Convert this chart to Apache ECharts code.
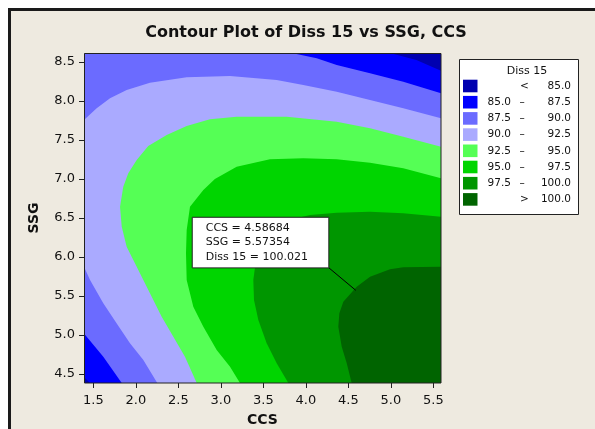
<!DOCTYPE html>
<html><head><meta charset="utf-8">
<script src="https://cdn.jsdelivr.net/npm/echarts@6/dist/echarts.min.js"></script>
<style>html,body{margin:0;padding:0;background:#fff}#c{width:595px;height:429px}</style>
</head><body><div id="c"></div>
<script>
// ---- data ----
const levels = [85, 87.5, 90, 92.5, 95, 97.5, 100];
const bandColors = ['#0000B0', '#0000FF', '#6B6BFF', '#AAAAFF', '#55FF55', '#00D500', '#009600', '#006400'];
const xTicks = [1.5, 2.0, 2.5, 3.0, 3.5, 4.0, 4.5, 5.0, 5.5];
const yTicks = [4.5, 5.0, 5.5, 6.0, 6.5, 7.0, 7.5, 8.0, 8.5];
const xRange = [1.39, 5.59];
const yRange = [4.385, 8.615];

// contour lines [CCS, SSG]
const c85Top = [[4.99, 8.615], [5.30, 8.525], [5.59, 8.388]];
const c85Low = [[1.39, 4.461], [1.461, 4.385]];
const c875Top = [[3.834, 8.615], [4.128, 8.547], [4.363, 8.461], [4.755, 8.355], [5.146, 8.247], [5.59, 8.098]];
const c875Low = [[1.39, 5.021], [1.617, 4.721], [1.834, 4.385]];
const c90Top = [[1.39, 7.756], [1.539, 7.906], [1.696, 8.034], [1.892, 8.141], [2.166, 8.234], [2.598, 8.303], [3.108, 8.320], [3.657, 8.269], [3.970, 8.205], [4.363, 8.119], [4.755, 8.012], [5.146, 7.906], [5.59, 7.778]];
const c90Low = [[1.39, 5.875], [1.461, 5.705], [1.617, 5.406], [1.775, 5.149], [1.931, 4.893], [2.088, 4.679], [2.252, 4.385]];
const c925 = [[5.59, 7.414], [5.146, 7.542], [4.755, 7.650], [4.363, 7.734], [3.775, 7.798], [3.186, 7.798], [2.872, 7.765], [2.598, 7.679], [2.363, 7.564], [2.146, 7.423], [2.010, 7.243], [1.911, 7.073], [1.852, 6.901], [1.814, 6.644], [1.834, 6.388], [1.892, 6.132], [2.010, 5.875], [2.166, 5.534], [2.304, 5.234], [2.441, 4.978], [2.578, 4.721], [2.716, 4.385]];
const c95 = [[5.59, 7.009], [5.146, 7.137], [4.755, 7.209], [4.363, 7.252], [3.970, 7.265], [3.578, 7.252], [3.186, 7.157], [2.93, 7.0], [2.794, 6.859], [2.637, 6.644], [2.598, 6.346], [2.590, 6.047], [2.598, 5.705], [2.676, 5.362], [2.794, 5.106], [2.951, 4.807], [3.108, 4.593], [3.225, 4.385]];
const c975 = [[5.59, 6.516], [5.146, 6.560], [4.755, 6.580], [4.363, 6.568], [4.049, 6.538], [3.90, 6.50], [3.735, 6.452], [3.539, 6.260], [3.441, 6.047], [3.402, 5.868], [3.382, 5.705], [3.390, 5.448], [3.441, 5.192], [3.539, 4.893], [3.657, 4.637], [3.794, 4.385]];
const c100 = [[5.59, 5.875], [5.146, 5.868], [4.99, 5.842], [4.755, 5.747], [4.598, 5.619], [4.441, 5.427], [4.394, 5.278], [4.382, 5.106], [4.422, 4.850], [4.481, 4.637], [4.539, 4.385]];

const contourSets = [[c85Top, c85Low], [c875Top, c875Low], [c90Top, c90Low], [c925], [c95], [c975], [c100]];
const annotPoint = [4.58684, 5.57354, 100.021];

// ---- build ----
const [xMin, xMax] = xRange, [yMin, yMax] = yRange;
function regionAbove(parts) {
  const a = parts[0], b = parts[1];
  const pts = [];
  if (a[0][1] >= yMax) pts.push([xMin, yMax]);
  pts.push(...a);
  pts.push([xMax, yMin]);
  if (b) pts.push(...b.slice().reverse());
  return pts;
}
const regions = [[[xMin, yMin], [xMin, yMax], [xMax, yMax], [xMax, yMin]]].concat(contourSets.map(regionAbove));

const series = regions.map((poly, i) => ({
  type: 'custom',
  coordinateSystem: 'cartesian2d',
  clip: true,
  z: 2 + i,
  silent: true,
  data: poly,
  renderItem: function (params, api) {
    if (params.dataIndex !== 0) return null;
    return {
      type: 'polygon',
      shape: { points: poly.map(p => api.coord(p)) },
      style: { fill: bandColors[i], stroke: null }
    };
  }
}));

const FONT = '"DejaVu Sans", Verdana, sans-serif';
series.push({
  type: 'custom',
  coordinateSystem: 'cartesian2d',
  z: 20,
  silent: true,
  data: [annotPoint],
  renderItem: function (params, api) {
    const p = api.coord([api.value(0), api.value(1)]);
    const cx = p[0] - 27.4, cy = p[1] - 22.9;
    const bw = 136.6, bh = 50.6;
    const bx = cx - bw, by = cy - bh;
    const lines = ['CCS = ' + annotPoint[0], 'SSG = ' + annotPoint[1], 'Diss 15 = ' + annotPoint[2]];
    const offs = [11.3, 25.8, 40.3];
    return {
      type: 'group',
      children: [
        { type: 'line', shape: { x1: p[0], y1: p[1], x2: cx, y2: cy }, style: { stroke: '#000', lineWidth: 1 } },
        { type: 'rect', shape: { x: bx + 0.5, y: by + 0.5, width: bw, height: bh }, style: { fill: '#fff', stroke: '#222', lineWidth: 1 } }
      ].concat(lines.map((t, k) => ({
        type: 'text',
        style: { text: t, x: bx + 14, y: by + offs[k], font: '11px ' + FONT, fill: '#111', verticalAlign: 'middle', align: 'left' }
      })))
    };
  }
});

// legend graphics
const legendEls = [];
legendEls.push({ type: 'rect', shape: { x: 459.5, y: 59.5, width: 119, height: 155 }, style: { fill: '#fff', stroke: '#222', lineWidth: 1 }, z: 50 });
legendEls.push({ type: 'text', style: { text: 'Diss 15', x: 527, y: 71, font: '11px ' + FONT, fill: '#111', align: 'center', verticalAlign: 'middle' }, z: 51 });
for (let i = 0; i < bandColors.length; i++) {
  const cyy = 86 + i * 16.2;
  legendEls.push({ type: 'rect', shape: { x: 463, y: cyy - 6.3, width: 14.5, height: 12.6 }, style: { fill: bandColors[i] }, z: 51 });
  const tf = { font: '10.5px ' + FONT, fill: '#111', verticalAlign: 'middle' };
  if (i === 0) {
    legendEls.push({ type: 'text', style: Object.assign({ text: '<', x: 524.5, y: cyy, align: 'center' }, tf), z: 51 });
    legendEls.push({ type: 'text', style: Object.assign({ text: levels[0].toFixed(1), x: 571, y: cyy, align: 'right' }, tf), z: 51 });
  } else if (i === bandColors.length - 1) {
    legendEls.push({ type: 'text', style: Object.assign({ text: '>', x: 524.5, y: cyy, align: 'center' }, tf), z: 51 });
    legendEls.push({ type: 'text', style: Object.assign({ text: levels[levels.length - 1].toFixed(1), x: 571, y: cyy, align: 'right' }, tf), z: 51 });
  } else {
    legendEls.push({ type: 'text', style: Object.assign({ text: levels[i - 1].toFixed(1), x: 511, y: cyy, align: 'right' }, tf), z: 51 });
    legendEls.push({ type: 'text', style: Object.assign({ text: '\u2013', x: 522, y: cyy, align: 'center' }, tf), z: 51 });
    legendEls.push({ type: 'text', style: Object.assign({ text: levels[i].toFixed(1), x: 571, y: cyy, align: 'right' }, tf), z: 51 });
  }
}

const chart = echarts.init(document.getElementById('c'), null, { renderer: 'canvas' });
chart.setOption({
  animation: false,
  backgroundColor: '#EEEAE0',
  title: {
    text: 'Contour Plot of Diss 15 vs SSG, CCS',
    left: 301, top: 20, textAlign: 'center',
    textStyle: { fontFamily: FONT, fontWeight: 'bold', fontSize: 16, color: '#111' }
  },
  grid: { left: 84, top: 53, width: 357, height: 330, containLabel: false, outerBoundsMode: 'none' },
  xAxis: {
    type: 'value', min: xMin, max: xMax,
    name: 'CCS', nameLocation: 'middle', nameGap: 30,
    nameTextStyle: { fontFamily: FONT, fontWeight: 'bold', fontSize: 14, color: '#111' },
    splitLine: { show: false },
    axisLine: { show: false },
    axisTick: { show: true, length: 5, customValues: xTicks, lineStyle: { color: '#222' } },
    axisLabel: { customValues: xTicks, formatter: v => v.toFixed(1), fontFamily: FONT, fontSize: 13, color: '#111', margin: 11 }
  },
  yAxis: {
    type: 'value', min: yMin, max: yMax,
    name: 'SSG', nameLocation: 'middle', nameGap: 43,
    nameTextStyle: { fontFamily: FONT, fontWeight: 'bold', fontSize: 14, color: '#111' },
    splitLine: { show: false },
    axisLine: { show: false },
    axisTick: { show: true, length: 5, customValues: yTicks, lineStyle: { color: '#222' } },
    axisLabel: { customValues: yTicks, formatter: v => v.toFixed(1), fontFamily: FONT, fontSize: 13, color: '#111', margin: 9 }
  },
  series: series,
  graphic: [
    { type: 'rect', shape: { x: 0, y: 0, width: 595, height: 8 }, style: { fill: '#fff' }, z: 0 },
    { type: 'rect', shape: { x: 0, y: 0, width: 8, height: 429 }, style: { fill: '#fff' }, z: 0 },
    { type: 'polyline', shape: { points: [[9.5, 429], [9.5, 9.5], [595, 9.5]] }, style: { stroke: '#1a1a1a', lineWidth: 3, fill: null }, z: 0 },
    { type: 'rect', shape: { x: 84.5, y: 53.5, width: 356.5, height: 329.5 }, style: { fill: null, stroke: '#222', lineWidth: 1 }, z: 100 }
  ].concat(legendEls)
});
</script>
</body></html>
